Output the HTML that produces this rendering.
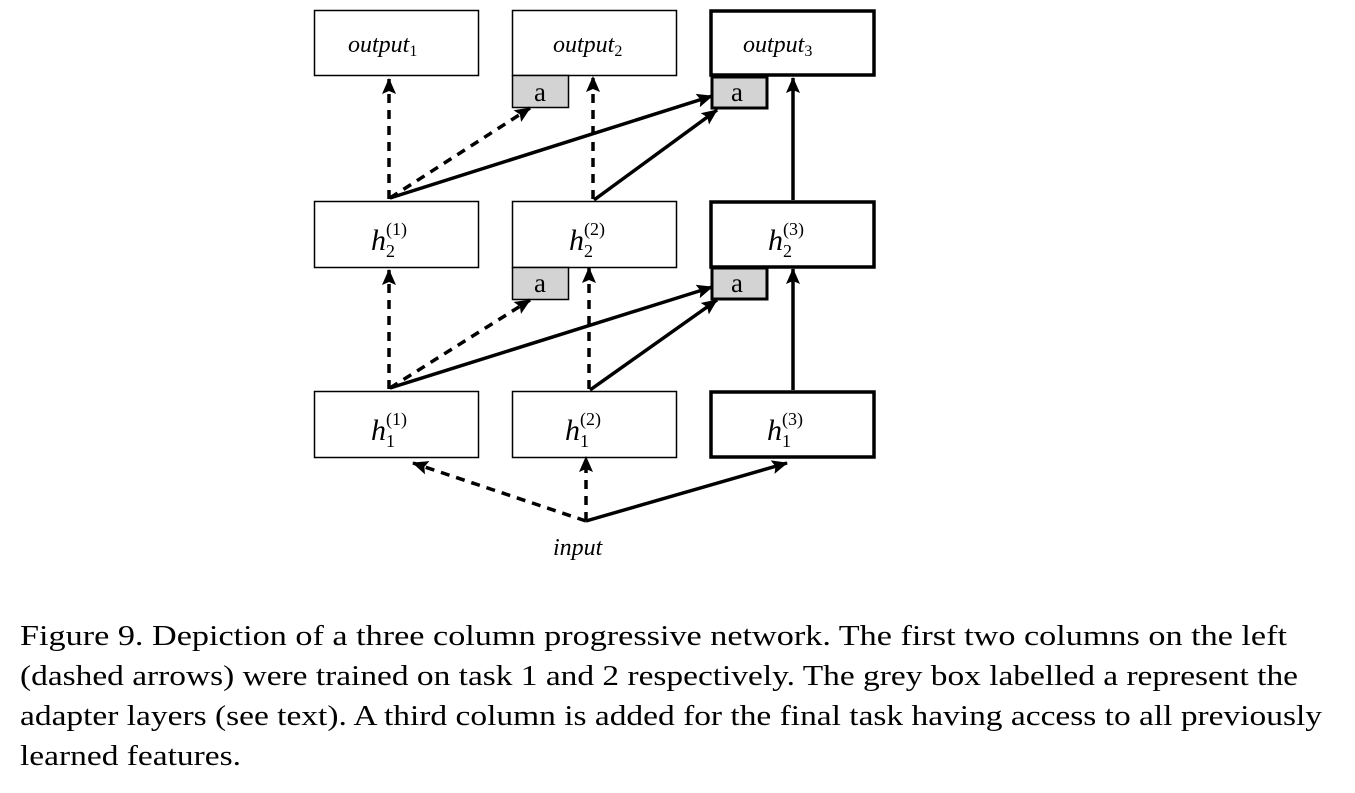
<!DOCTYPE html>
<html><head><meta charset="utf-8"><style>html,body{margin:0;padding:0;background:#fff}svg{display:block}</style></head>
<body>
<svg width="1355" height="793" viewBox="0 0 1355 793" xmlns="http://www.w3.org/2000/svg">
<defs>
<marker id="ah" markerWidth="10" markerHeight="10" refX="9" refY="5" orient="auto" markerUnits="userSpaceOnUse" viewBox="0 0 10 10">
<path d="M0,0 L10,5 L0,10 Z" fill="#000" transform="scale(1)"/>
</marker>
<marker id="ah2" markerWidth="16" markerHeight="14" refX="15" refY="7" orient="auto" markerUnits="userSpaceOnUse">
<path d="M0,0 L16,7 L0,14 L3,7 Z" fill="#000"/>
</marker>
</defs>
<g fill="#fff" stroke="#000">
<rect x="314.5" y="10.5" width="164" height="65" stroke-width="1.5"/>
<rect x="512.5" y="10.5" width="164" height="65" stroke-width="1.5"/>
<rect x="711" y="11" width="163" height="64" stroke-width="3.5"/>
<rect x="314.5" y="201.5" width="164" height="66" stroke-width="1.5"/>
<rect x="512.5" y="201.5" width="164" height="66" stroke-width="1.5"/>
<rect x="711" y="202" width="163" height="65" stroke-width="3.5"/>
<rect x="314.5" y="391.5" width="164" height="66" stroke-width="1.5"/>
<rect x="512.5" y="391.5" width="164" height="66" stroke-width="1.5"/>
<rect x="711" y="392" width="163" height="65" stroke-width="3.5"/>
</g>
<g fill="#d3d3d3" stroke="#000">
<rect x="512.5" y="75.5" width="56" height="32" stroke-width="1.5"/>
<rect x="712" y="77" width="55" height="31" stroke-width="3"/>
<rect x="512.5" y="267.5" width="56" height="32" stroke-width="1.5"/>
<rect x="712" y="268" width="55" height="31" stroke-width="3"/>
</g>
<g font-family="Liberation Serif, serif" font-size="27" text-anchor="middle" fill="#000">
<text x="540" y="101">a</text><text x="737" y="101">a</text>
<text x="540" y="292">a</text><text x="737" y="292">a</text>
</g>
<g font-family="Liberation Serif, serif" font-style="italic" font-size="24" fill="#000">
<text x="348" y="52">output<tspan font-style="normal" font-size="16" dy="4">1</tspan></text>
<text x="553" y="52">output<tspan font-style="normal" font-size="16" dy="4">2</tspan></text>
<text x="743" y="52">output<tspan font-style="normal" font-size="16" dy="4">3</tspan></text>
<text x="553" y="555">input</text>
</g>
<g font-family="Liberation Serif, serif" fill="#000">
<text x="371" y="250" font-size="30" font-style="italic">h<tspan font-style="normal" font-size="18" dy="7">2</tspan><tspan font-style="normal" font-size="18" dx="-9" dy="-22">(1)</tspan></text>
<text x="569" y="250" font-size="30" font-style="italic">h<tspan font-style="normal" font-size="18" dy="7">2</tspan><tspan font-style="normal" font-size="18" dx="-9" dy="-22">(2)</tspan></text>
<text x="768" y="250" font-size="30" font-style="italic">h<tspan font-style="normal" font-size="18" dy="7">2</tspan><tspan font-style="normal" font-size="18" dx="-9" dy="-22">(3)</tspan></text>
<text x="371" y="440" font-size="30" font-style="italic">h<tspan font-style="normal" font-size="18" dy="7">1</tspan><tspan font-style="normal" font-size="18" dx="-9" dy="-22">(1)</tspan></text>
<text x="565" y="440" font-size="30" font-style="italic">h<tspan font-style="normal" font-size="18" dy="7">1</tspan><tspan font-style="normal" font-size="18" dx="-9" dy="-22">(2)</tspan></text>
<text x="767" y="440" font-size="30" font-style="italic">h<tspan font-style="normal" font-size="18" dy="7">1</tspan><tspan font-style="normal" font-size="18" dx="-9" dy="-22">(3)</tspan></text>
</g>
<g stroke="#000" stroke-width="3.5" fill="none">
<!-- top layer -->
<line x1="389" y1="199" x2="389" y2="79" stroke-dasharray="9,7" marker-end="url(#ah2)"/>
<line x1="390" y1="198" x2="530" y2="108" stroke-dasharray="9,7" marker-end="url(#ah2)"/>
<line x1="390" y1="198" x2="712" y2="96" marker-end="url(#ah2)"/>
<line x1="593" y1="199" x2="593" y2="77" stroke-dasharray="9,7" marker-end="url(#ah2)"/>
<line x1="594" y1="200" x2="717" y2="110" marker-end="url(#ah2)"/>
<line x1="793" y1="200" x2="793" y2="78" marker-end="url(#ah2)"/>
<!-- middle layer -->
<line x1="389" y1="389" x2="389" y2="270" stroke-dasharray="9,7" marker-end="url(#ah2)"/>
<line x1="390" y1="388" x2="530" y2="300" stroke-dasharray="9,7" marker-end="url(#ah2)"/>
<line x1="390" y1="388" x2="712" y2="287" marker-end="url(#ah2)"/>
<line x1="589" y1="389" x2="589" y2="268" stroke-dasharray="9,7" marker-end="url(#ah2)"/>
<line x1="590" y1="390" x2="717" y2="300" marker-end="url(#ah2)"/>
<line x1="793" y1="390" x2="793" y2="269" marker-end="url(#ah2)"/>
<!-- input -->
<line x1="586" y1="521" x2="413" y2="463" stroke-dasharray="9,7" marker-end="url(#ah2)"/>
<line x1="586" y1="521" x2="586" y2="457" stroke-dasharray="9,7" marker-end="url(#ah2)"/>
<line x1="586" y1="521" x2="787" y2="463" marker-end="url(#ah2)"/>
</g>
<g font-family="Liberation Serif, serif" font-size="29" fill="#000">
<text x="20" y="645" textLength="1267" lengthAdjust="spacingAndGlyphs">Figure 9. Depiction of a three column progressive network. The first two columns on the left</text>
<text x="20" y="685" textLength="1278" lengthAdjust="spacingAndGlyphs">(dashed arrows) were trained on task 1 and 2 respectively. The grey box labelled a represent the</text>
<text x="20" y="725" textLength="1302" lengthAdjust="spacingAndGlyphs">adapter layers (see text). A third column is added for the final task having access to all previously</text>
<text x="20" y="765" textLength="221" lengthAdjust="spacingAndGlyphs">learned features.</text>
</g>
</svg>
</body></html>
